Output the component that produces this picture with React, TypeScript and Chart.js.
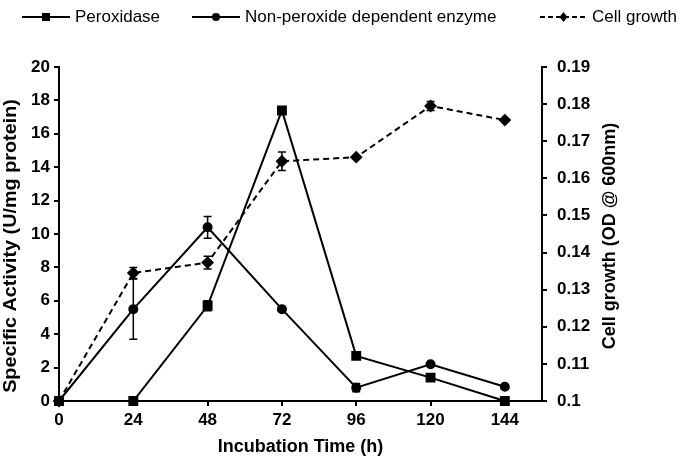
import React, { useEffect, useRef } from 'react';
import { Chart, registerables } from 'chart.js';

Chart.register(...registerables);

const hours = [0, 24, 48, 72, 96, 120, 144];
const peroxidase = [0, 0, 5.7, 17.4, 2.7, 1.4, 0];
const peroxidaseErr = [0, 0, 0.3, 0, 0, 0, 0];
const nonPeroxide = [0, 5.5, 10.4, 5.5, 0.8, 2.2, 0.85];
const nonPeroxideErr = [0, 1.8, 0.65, 0, 0.25, 0, 0];
const cellGrowth = [0.1, 0.1345, 0.1373, 0.1646, 0.1657, 0.1795, 0.1757];
const cellGrowthErr = [0, 0.0015, 0.0017, 0.0025, 0, 0.0012, 0];

const xTicks = [0, 24, 48, 72, 96, 120, 144];
const leftTicks = [0, 2, 4, 6, 8, 10, 12, 14, 16, 18, 20];
const rightTicks = [0.1, 0.11, 0.12, 0.13, 0.14, 0.15, 0.16, 0.17, 0.18, 0.19];

const seriesNames = ['Peroxidase', 'Non-peroxide dependent enzyme', 'Cell growth'];
const xTitle = 'Incubation Time (h)';
const leftTitle = 'Specific Activity (U/mg protein)';
const rightTitle = 'Cell growth (OD @ 600nm)';

const FONT = '"Liberation Sans", Arial, sans-serif';

function drawMarker(ctx: CanvasRenderingContext2D, kind: string, x: number, y: number) {
  ctx.beginPath();
  if (kind === 'rect') {
    ctx.rect(x - 4, y - 4, 8, 8);
  } else if (kind === 'circle') {
    ctx.arc(x, y, 4, 0, Math.PI * 2);
  } else {
    ctx.moveTo(x, y - 5);
    ctx.lineTo(x + 4, y);
    ctx.lineTo(x, y + 5);
    ctx.lineTo(x - 4, y);
    ctx.closePath();
  }
  ctx.fill();
}

const errorBarPlugin = {
  id: 'errorBars',
  afterDatasetsDraw(chart: any) {
    const ctx = chart.ctx;
    const errs = [peroxidaseErr, nonPeroxideErr, cellGrowthErr];
    const vals = [peroxidase, nonPeroxide, cellGrowth];
    ctx.save();
    ctx.strokeStyle = '#000';
    ctx.lineWidth = 1.5;
    ctx.setLineDash([]);
    errs.forEach((err, i) => {
      const meta = chart.getDatasetMeta(i);
      const scale = chart.scales[meta.yAxisID];
      err.forEach((e, j) => {
        if (!e) return;
        const x = meta.data[j].x;
        const yt = scale.getPixelForValue(vals[i][j] + e);
        const yb = scale.getPixelForValue(vals[i][j] - e);
        ctx.beginPath();
        ctx.moveTo(x, yt);
        ctx.lineTo(x, yb);
        ctx.moveTo(x - 4, yt);
        ctx.lineTo(x + 4, yt);
        ctx.moveTo(x - 4, yb);
        ctx.lineTo(x + 4, yb);
        ctx.stroke();
      });
    });
    ctx.restore();
  },
};

const legendPlugin = {
  id: 'customLegend',
  afterDraw(chart: any) {
    const ctx = chart.ctx;
    const items = [
      { label: seriesNames[0], x1: 22, x2: 70, marker: 'rect', dash: false },
      { label: seriesNames[1], x1: 192, x2: 240, marker: 'circle', dash: false },
      { label: seriesNames[2], x1: 540, x2: 587, marker: 'diamond', dash: true },
    ];
    const y = 17;
    ctx.save();
    ctx.fillStyle = '#000';
    ctx.strokeStyle = '#000';
    ctx.font = `17px ${FONT}`;
    ctx.textBaseline = 'middle';
    ctx.textAlign = 'left';
    items.forEach((it) => {
      ctx.lineWidth = 2;
      ctx.setLineDash(it.dash ? [5, 3] : []);
      ctx.beginPath();
      ctx.moveTo(it.x1, y);
      ctx.lineTo(it.x2, y);
      ctx.stroke();
      ctx.setLineDash([]);
      drawMarker(ctx, it.marker, (it.x1 + it.x2) / 2, y);
      ctx.fillText(it.label, it.x2 + 5, y);
    });
    const area = chart.chartArea;
    ctx.font = `bold 18px ${FONT}`;
    ctx.textAlign = 'center';
    // left axis title, reading bottom-to-top
    ctx.save();
    ctx.translate(11, 246);
    ctx.rotate(-Math.PI / 2);
    ctx.scale(1.1, 1);
    ctx.fillText(leftTitle, 0, 0);
    ctx.restore();
    // right axis title, reading bottom-to-top
    ctx.save();
    ctx.translate(610, (area.top + area.bottom) / 2 + 2);
    ctx.rotate(-Math.PI / 2);
    ctx.fillText(rightTitle, 0, 0);
    ctx.restore();
    ctx.restore();
  },
};

export default function App() {
  const ref = useRef<HTMLCanvasElement | null>(null);

  useEffect(() => {
    if (!ref.current) return;
    const pts = (arr: number[]) => hours.map((h, i) => ({ x: h, y: arr[i] }));
    const common = {
      borderColor: '#000',
      backgroundColor: '#000',
      pointBackgroundColor: '#000',
      pointBorderColor: '#000',
      borderWidth: 2,
      clip: false as any,
      tension: 0,
    };
    const tickFont = { family: FONT, size: 17, weight: 'bold' as const };
    const titleFont = { family: FONT, size: 18, weight: 'bold' as const };
    const gridOpts = {
      display: true,
      drawOnChartArea: false,
      drawTicks: true,
      tickLength: 5,
      color: '#000',
      lineWidth: 2,
    };
    const chart = new Chart(ref.current, {
      type: 'line',
      data: {
        datasets: [
          {
            ...common,
            label: seriesNames[0],
            data: pts(peroxidase),
            yAxisID: 'y',
            pointStyle: 'rect',
            pointRadius: 5.6,
          },
          {
            ...common,
            label: seriesNames[1],
            data: pts(nonPeroxide),
            yAxisID: 'y',
            pointStyle: 'circle',
            pointRadius: 4,
          },
          {
            ...common,
            label: seriesNames[2],
            data: pts(cellGrowth),
            yAxisID: 'y1',
            pointStyle: 'rectRot',
            pointRadius: 5,
            borderDash: [6, 4],
          },
        ],
      },
      options: {
        responsive: false,
        animation: false,
        devicePixelRatio: 1,
        layout: { padding: { top: 67, left: 0, right: 0, bottom: 0 } },
        plugins: {
          legend: { display: false },
          tooltip: { enabled: false },
        },
        scales: {
          x: {
            type: 'linear',
            min: 0,
            max: 156,
            afterBuildTicks: (s: any) => {
              s.ticks = xTicks.map((v) => ({ value: v }));
            },
            afterFit: (s: any) => {
              s.height = 63;
            },
            ticks: { font: tickFont, color: '#000', padding: 4, autoSkip: false, maxRotation: 0 },
            grid: gridOpts,
            border: { display: true, color: '#000', width: 2 },
            title: {
              display: true,
              text: xTitle,
              font: titleFont,
              color: '#000',
              padding: { top: 0, bottom: 6 },
            },
          },
          y: {
            type: 'linear',
            position: 'left',
            min: 0,
            max: 20,
            afterBuildTicks: (s: any) => {
              s.ticks = leftTicks.map((v) => ({ value: v }));
            },
            afterFit: (s: any) => {
              s.width = 59;
            },
            ticks: { font: tickFont, color: '#000', padding: 4, autoSkip: false },
            grid: gridOpts,
            border: { display: true, color: '#000', width: 2 },
          },
          y1: {
            type: 'linear',
            position: 'right',
            min: 0.1,
            max: 0.19,
            afterBuildTicks: (s: any) => {
              s.ticks = rightTicks.map((v) => ({ value: v }));
            },
            afterFit: (s: any) => {
              s.width = 143;
            },
            ticks: {
              font: tickFont,
              color: '#000',
              padding: 10,
              autoSkip: false,
              callback: (v: any) => String(Math.round(Number(v) * 100) / 100),
            },
            grid: gridOpts,
            border: { display: true, color: '#000', width: 2 },
          },
        },
      },
      plugins: [errorBarPlugin, legendPlugin],
    });
    return () => chart.destroy();
  }, []);

  return (
    <div style={{ position: 'absolute', left: 0, top: 0, width: 685, height: 464, background: '#fff' }}>
      <canvas ref={ref} width={685} height={464} style={{ display: 'block', width: 685, height: 464 }} />
    </div>
  );
}
